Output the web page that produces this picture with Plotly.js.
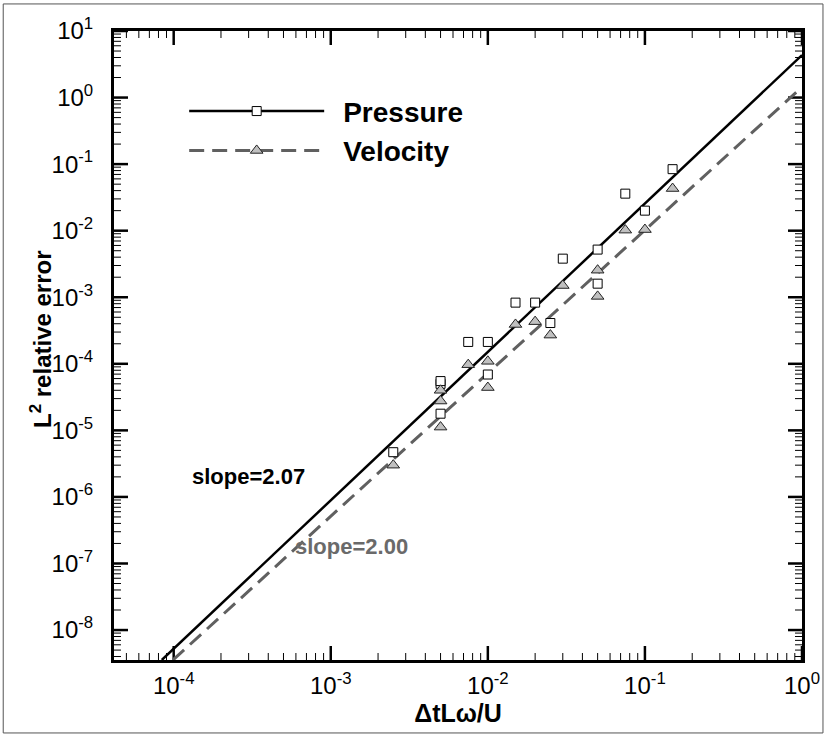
<!DOCTYPE html>
<html>
<head>
<meta charset="utf-8">
<script src="https://cdn.plot.ly/plotly-3.0.1.min.js"></script>
<style>html,body{margin:0;padding:0;background:#fff;}</style>
</head>
<body>
<div id="chart" style="width:827px;height:738px;"></div>
<script>
// time-step values (ΔtLω/U)
const dtValues = [0.0025, 0.005, 0.005, 0.005, 0.0075, 0.01, 0.01, 0.015, 0.02, 0.025, 0.03, 0.05, 0.05, 0.075, 0.1, 0.15];
// L2 relative errors
const pressureError = [4.7e-6, 5.0e-5, 5.5e-5, 1.78e-5, 2.13e-4, 2.13e-4, 6.9e-5, 8.3e-4, 8.3e-4, 4.1e-4, 3.8e-3, 5.2e-3, 1.6e-3, 3.6e-2, 2.0e-2, 8.4e-2];
const velocityError = [3.0e-6, 4.0e-5, 2.76e-5, 1.12e-5, 9.7e-5, 1.09e-4, 4.4e-5, 3.9e-4, 4.3e-4, 2.7e-4, 1.5e-3, 2.55e-3, 1.03e-3, 1.02e-2, 1.04e-2, 4.3e-2];
// fitted lines (end points)
const pressureFitX = [8.4e-5, 1];
const pressureFitY = [3.55e-9, 4.35];
const velocityFitX = [9.9e-5, 1];
const velocityFitY = [3.55e-9, 1.44];
const seriesNames = ['Pressure', 'Velocity'];
const slopeLabels = ['slope=2.07', 'slope=2.00'];
const xTitle = 'ΔtLω/U';
const yTitle = 'L<sup>2</sup> relative error';
// tick labels
const xTickVals = [1e-4, 1e-3, 1e-2, 1e-1, 1];
const xTickText = ['10<sup>-4</sup>', '10<sup>-3</sup>', '10<sup>-2</sup>', '10<sup>-1</sup>', '10<sup>0</sup>'];
const yTickVals = [1e-8, 1e-7, 1e-6, 1e-5, 1e-4, 1e-3, 1e-2, 1e-1, 1, 10];
const yTickText = ['10<sup>-8</sup>', '10<sup>-7</sup>', '10<sup>-6</sup>', '10<sup>-5</sup>', '10<sup>-4</sup>',
                   '10<sup>-3</sup>', '10<sup>-2</sup>', '10<sup>-1</sup>', '10<sup>0</sup>', '10<sup>1</sup>'];
const xRangeLog = [-4.38, 0];
const yRangeLog = [-8.45, 1];

// minor tick positions (2..9 within each decade), kept inside the axis range
function minorTicks(e0, e1, rangeLog) {
  const out = [];
  for (let e = e0; e <= e1; e++) for (let m = 2; m <= 9; m++) {
    const v = m * Math.pow(10, e);
    const l = Math.log10(v);
    if (l > rangeLog[0] && l < rangeLog[1]) out.push(v);
  }
  return out;
}
const xMinor = minorTicks(-5, -1, xRangeLog);
const yMinor = minorTicks(-9, 0, yRangeLog);

const W = 827, H = 738, M = {l: 114, r: 25, t: 31, b: 78};
const FONT = 'Arial, "Liberation Sans", Helvetica, sans-serif';
const velColor = '#606060';

// inside tick marks on all four sides (lengths given in pixels, converted to decades of each axis)
const decX = (W - M.l - M.r) / (xRangeLog[1] - xRangeLog[0]);
const decY = (H - M.t - M.b) / (yRangeLog[1] - yRangeLog[0]);
function tickTrace(xv, yv, len, width) {
  const x = [], y = [];
  const dy = len / decY, dx = len / decX;
  const yb = yRangeLog[0], yt = yRangeLog[1], xl = xRangeLog[0], xr = xRangeLog[1];
  xv.forEach(v => {
    x.push(v, v, null, v, v, null);
    y.push(Math.pow(10, yb), Math.pow(10, yb + dy), null, Math.pow(10, yt), Math.pow(10, yt - dy), null);
  });
  yv.forEach(v => {
    y.push(v, v, null, v, v, null);
    x.push(Math.pow(10, xl), Math.pow(10, xl + dx), null, Math.pow(10, xr), Math.pow(10, xr - dx), null);
  });
  return {x: x, y: y, mode: 'lines', showlegend: false, hoverinfo: 'skip', connectgaps: false,
          line: {color: '#000', width: width}};
}

const traces = [
  tickTrace(xMinor, yMinor, 7, 1),
  tickTrace(xTickVals, yTickVals, 14, 2.5),
  {x: pressureFitX, y: pressureFitY, mode: 'lines', showlegend: false,
   line: {color: '#000', width: 2.5}, hoverinfo: 'skip'},
  {x: velocityFitX, y: velocityFitY, mode: 'lines', showlegend: false,
   line: {color: velColor, width: 3, dash: '15px,8px'}, hoverinfo: 'skip'},
  {x: dtValues, y: pressureError, mode: 'markers', showlegend: false,
   marker: {symbol: 'square', size: 9, color: '#fff', line: {color: '#000', width: 1}}},
  {x: dtValues, y: velocityError, mode: 'markers', showlegend: false,
   marker: {symbol: 'triangle-up', size: 11, color: '#c0c0c0', line: {color: '#222', width: 1}}},
  // legend entries
  {x: [null], y: [null], mode: 'lines+markers', name: '\u2002' + seriesNames[0],
   line: {color: '#000', width: 2.5},
   marker: {symbol: 'square', size: 9, color: '#fff', line: {color: '#000', width: 1}}},
  {x: [null], y: [null], mode: 'lines+markers', name: '\u2002' + seriesNames[1],
   line: {color: velColor, width: 3, dash: '15px,8px'},
   marker: {symbol: 'triangle-up', size: 11, color: '#c0c0c0', line: {color: '#222', width: 1}}}
];

const axisCommon = {
  type: 'log', tickmode: 'array',
  showline: true, linecolor: '#000', linewidth: 3, mirror: true,
  ticks: '', showgrid: false, zeroline: false,
  tickfont: {family: FONT, size: 24, color: '#000'}
};

const layout = {
  width: W, height: H,
  margin: M,
  paper_bgcolor: '#fff', plot_bgcolor: '#fff',
  showlegend: true,
  legend: {x: 0.102, y: 0.912, xanchor: 'left', yanchor: 'top', itemwidth: 135,
    bgcolor: 'rgba(0,0,0,0)', font: {family: FONT, size: 28, color: '#000', weight: 'bold'}},
  xaxis: Object.assign({}, axisCommon, {
    range: xRangeLog,
    tickvals: xTickVals, ticktext: xTickText,
    ticklabelstandoff: 2,
    title: {text: '<b>' + xTitle + '</b>', font: {family: FONT, size: 25, color: '#000'}, standoff: 2}
  }),
  yaxis: Object.assign({}, axisCommon, {
    range: yRangeLog,
    tickvals: yTickVals, ticktext: yTickText,
    ticklabelstandoff: 13
  }),
  annotations: [
    {xref: 'paper', yref: 'paper', x: -0.106, y: 0.509, xanchor: 'center', yanchor: 'middle', textangle: -90,
     text: '<b>' + yTitle + '</b>', showarrow: false, font: {family: FONT, size: 24, color: '#000'}},
    {xref: 'paper', yref: 'paper', x: 0.195, y: 0.291, xanchor: 'center', yanchor: 'middle',
     text: '<b>' + slopeLabels[0] + '</b>',
     showarrow: false, font: {family: FONT, size: 22, color: '#000'}},
    {xref: 'paper', yref: 'paper', x: 0.345, y: 0.18, xanchor: 'center', yanchor: 'middle',
     text: '<b>' + slopeLabels[1] + '</b>',
     showarrow: false, font: {family: FONT, size: 22, color: '#6a6a6a'}}
  ],
  shapes: [
    {type: 'rect', xref: 'paper', yref: 'paper', x0: -0.161, x1: 1.0305, y0: -0.116, y1: 1.043,
     line: {color: '#555', width: 1}, layer: 'below'}
  ]
};

Plotly.newPlot('chart', traces, layout, {displayModeBar: false, staticPlot: true});
</script>
</body>
</html>
